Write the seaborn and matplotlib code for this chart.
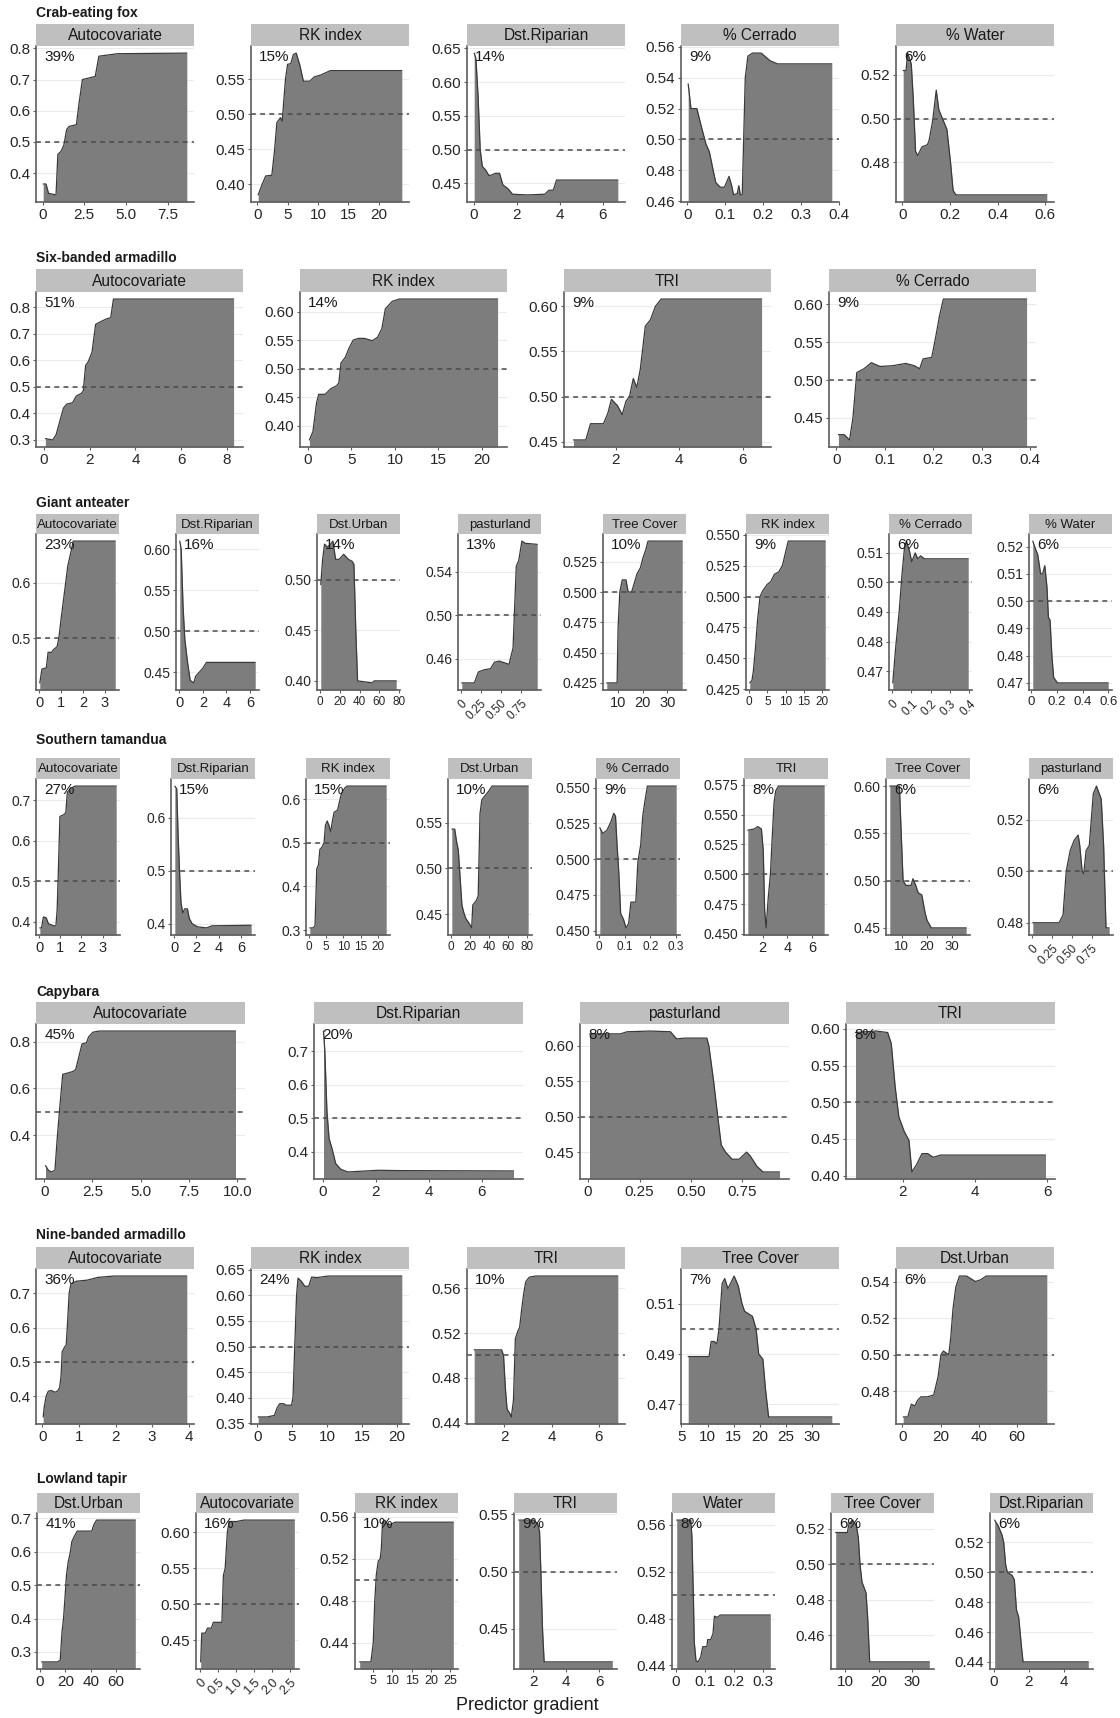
import matplotlib
matplotlib.use("Agg")
import matplotlib.pyplot as plt
import seaborn as sns
import pandas as pd

sns.set_theme(style="white")
plt.rcParams["font.family"] = ["Liberation Sans", "DejaVu Sans"]

# ---------------- data ----------------
# Crab-eating fox
fox_vars = ["Autocovariate", "RK index", "Dst.Riparian", "% Cerrado", "% Water"]
fox_pct = [39, 15, 14, 9, 6]
fox_auto_x = [0.04, 0.21, 0.36, 0.81, 0.92, 1.11, 1.28, 1.45, 1.6, 2.03, 2.18, 2.39, 3.16, 3.38, 4.49, 8.65]
fox_auto_y = [0.365, 0.365, 0.335, 0.33, 0.46, 0.47, 0.49, 0.54, 0.55, 0.555, 0.62, 0.70, 0.71, 0.775, 0.783, 0.785]
fox_rk_x = [0.12, 0.77, 1.36, 2.37, 2.84, 3.2, 3.79, 4.08, 4.62, 4.97, 5.5, 5.92, 6.39, 6.98, 7.57, 8.64, 9.35, 10.5, 12.0, 23.8]
fox_rk_y = [0.385, 0.40, 0.412, 0.413, 0.45, 0.488, 0.495, 0.49, 0.55, 0.571, 0.572, 0.585, 0.587, 0.57, 0.547, 0.547, 0.553, 0.556, 0.562, 0.562]
fox_rip_x = [0.02, 0.1, 0.2, 0.3, 0.4, 0.55, 0.7, 0.8, 1.0, 1.2, 1.35, 1.6, 1.8, 2.5, 3.3, 3.5, 3.7, 3.85, 6.7]
fox_rip_y = [0.643, 0.635, 0.58, 0.50, 0.475, 0.47, 0.462, 0.462, 0.465, 0.465, 0.448, 0.442, 0.434, 0.433, 0.434, 0.44, 0.44, 0.455, 0.455]
fox_cer_x = [0.002, 0.0094, 0.025, 0.035, 0.049, 0.058, 0.068, 0.075, 0.087, 0.098, 0.110, 0.117, 0.122, 0.132, 0.136, 0.140, 0.145, 0.153, 0.160, 0.172, 0.195, 0.219, 0.238, 0.382]
fox_cer_y = [0.536, 0.52, 0.52, 0.51, 0.497, 0.492, 0.48, 0.472, 0.469, 0.469, 0.476, 0.47, 0.464, 0.465, 0.47, 0.464, 0.464, 0.54, 0.554, 0.556, 0.556, 0.551, 0.549, 0.549]
fox_wat_x = [0.003, 0.015, 0.022, 0.037, 0.045, 0.055, 0.064, 0.082, 0.105, 0.112, 0.127, 0.142, 0.153, 0.168, 0.187, 0.202, 0.213, 0.225, 0.607]
fox_wat_y = [0.522, 0.522, 0.53, 0.525, 0.51, 0.485, 0.483, 0.487, 0.488, 0.49, 0.499, 0.513, 0.504, 0.50, 0.495, 0.48, 0.467, 0.465, 0.465]
fox_xticks = [[0, 2.5, 5, 7.5], [0, 5, 10, 15, 20], [0, 2, 4, 6], [0, 0.1, 0.2, 0.3, 0.4], [0, 0.2, 0.4, 0.6]]
fox_yticks = [[0.4, 0.5, 0.6, 0.7, 0.8], [0.40, 0.45, 0.50, 0.55], [0.45, 0.50, 0.55, 0.60, 0.65],
              [0.46, 0.48, 0.50, 0.52, 0.54, 0.56], [0.48, 0.50, 0.52]]

# Six-banded armadillo
six_vars = ["Autocovariate", "RK index", "TRI", "% Cerrado"]
six_pct = [51, 14, 9, 9]
six_auto_x = [0.06, 0.38, 0.53, 0.69, 0.85, 1.0, 1.25, 1.41, 1.63, 1.72, 1.82, 1.94, 2.1, 2.26, 2.48, 2.73, 2.92, 3.04, 8.3]
six_auto_y = [0.305, 0.30, 0.32, 0.37, 0.42, 0.435, 0.44, 0.465, 0.475, 0.485, 0.58, 0.595, 0.63, 0.735, 0.745, 0.755, 0.76, 0.83, 0.83]
six_rk_x = [0.17, 0.58, 0.99, 1.24, 1.98, 2.64, 3.3, 3.55, 3.8, 4.3, 4.7, 5.2, 5.8, 6.5, 7.4, 8.0, 8.5, 8.9, 9.7, 10.5, 21.8]
six_rk_y = [0.375, 0.39, 0.44, 0.455, 0.455, 0.465, 0.47, 0.475, 0.51, 0.52, 0.535, 0.55, 0.553, 0.553, 0.549, 0.555, 0.57, 0.605, 0.618, 0.622, 0.622]
six_tri_x = [0.66, 1.05, 1.2, 1.61, 1.75, 1.86, 2.05, 2.2, 2.32, 2.43, 2.55, 2.66, 2.77, 2.93, 3.09, 3.25, 3.43, 6.6]
six_tri_y = [0.452, 0.452, 0.47, 0.47, 0.482, 0.497, 0.49, 0.48, 0.495, 0.50, 0.52, 0.51, 0.53, 0.578, 0.585, 0.60, 0.608, 0.608]
six_cer_x = [0.004, 0.016, 0.027, 0.034, 0.042, 0.057, 0.072, 0.09, 0.116, 0.143, 0.161, 0.172, 0.179, 0.197, 0.206, 0.213, 0.221, 0.393]
six_cer_y = [0.428, 0.428, 0.421, 0.45, 0.51, 0.515, 0.523, 0.518, 0.519, 0.522, 0.519, 0.515, 0.528, 0.53, 0.56, 0.585, 0.607, 0.607]
six_xticks = [[0, 2, 4, 6, 8], [0, 5, 10, 15, 20], [2, 4, 6], [0, 0.1, 0.2, 0.3, 0.4]]
six_yticks = [[0.3, 0.4, 0.5, 0.6, 0.7, 0.8], [0.40, 0.45, 0.50, 0.55, 0.60], [0.45, 0.50, 0.55, 0.60], [0.45, 0.50, 0.55, 0.60]]

# Giant anteater
ga_vars = ["Autocovariate", "Dst.Riparian", "Dst.Urban", "pasturland", "Tree Cover", "RK index", "% Cerrado", "% Water"]
ga_pct = [23, 16, 14, 13, 10, 9, 6, 6]
ga_auto_x = [0.03, 0.13, 0.33, 0.41, 0.57, 0.66, 0.82, 0.9, 1.02, 1.15, 1.31, 1.48, 1.56, 3.48]
ga_auto_y = [0.42, 0.445, 0.447, 0.475, 0.475, 0.48, 0.485, 0.50, 0.54, 0.58, 0.63, 0.66, 0.675, 0.675]
ga_rip_x = [0.03, 0.15, 0.31, 0.46, 0.71, 0.92, 1.23, 1.38, 1.69, 2.0, 2.3, 6.46]
ga_rip_y = [0.61, 0.60, 0.53, 0.49, 0.46, 0.44, 0.437, 0.445, 0.45, 0.455, 0.462, 0.462]
ga_urb_x = [0.7, 2.6, 4.5, 7.5, 10.8, 13, 15.7, 19.4, 23.9, 28.7, 32.5, 34.3, 36.2, 38, 53, 54.9, 77.2]
ga_urb_y = [0.495, 0.52, 0.535, 0.532, 0.535, 0.538, 0.52, 0.52, 0.525, 0.52, 0.518, 0.515, 0.45, 0.40, 0.398, 0.40, 0.40]
ga_pas_x = [0.014, 0.17, 0.22, 0.29, 0.37, 0.42, 0.48, 0.60, 0.65, 0.69, 0.72, 0.76, 0.80, 0.95]
ga_pas_y = [0.438, 0.438, 0.448, 0.45, 0.451, 0.457, 0.458, 0.455, 0.47, 0.545, 0.55, 0.568, 0.566, 0.565]
ga_tree_x = [5.4, 9.6, 10.0, 10.7, 11.7, 13.2, 14.1, 15.5, 16.4, 17.7, 19.1, 20.1, 21.3, 22.2, 36.1]
ga_tree_y = [0.425, 0.425, 0.47, 0.50, 0.51, 0.51, 0.50, 0.50, 0.506, 0.515, 0.52, 0.528, 0.535, 0.542, 0.542]
ga_rk_x = [0.2, 0.8, 1.2, 1.8, 2.3, 3.0, 3.8, 5.0, 5.9, 6.9, 8.1, 9.1, 9.9, 10.7, 20.8]
ga_rk_y = [0.43, 0.432, 0.44, 0.46, 0.48, 0.50, 0.505, 0.51, 0.512, 0.518, 0.52, 0.525, 0.535, 0.545, 0.545]
ga_cer_x = [0.004, 0.019, 0.037, 0.052, 0.065, 0.074, 0.089, 0.102, 0.12, 0.133, 0.148, 0.167, 0.394]
ga_cer_y = [0.466, 0.478, 0.49, 0.503, 0.512, 0.514, 0.511, 0.507, 0.510, 0.508, 0.509, 0.508, 0.508]
ga_wat_x = [0.011, 0.033, 0.05, 0.072, 0.088, 0.105, 0.122, 0.133, 0.146, 0.16, 0.174, 0.204, 0.6]
ga_wat_y = [0.522, 0.519, 0.517, 0.51, 0.51, 0.513, 0.505, 0.494, 0.493, 0.48, 0.472, 0.47, 0.47]
ga_xticks = [[0, 1, 2, 3], [0, 2, 4, 6], [0, 20, 40, 60, 80], [0, 0.25, 0.5, 0.75], [10, 20, 30],
             [0, 5, 10, 15, 20], [0, 0.1, 0.2, 0.3, 0.4], [0, 0.2, 0.4, 0.6]]
ga_yticks = [[0.5, 0.6], [0.45, 0.50, 0.55, 0.60], [0.40, 0.45, 0.50], [0.46, 0.50, 0.54],
             [0.425, 0.450, 0.475, 0.500, 0.525], [0.425, 0.450, 0.475, 0.500, 0.525, 0.550],
             [0.47, 0.48, 0.49, 0.50, 0.51], [0.47, 0.48, 0.49, 0.50, 0.51, 0.52]]

# Southern tamandua
st_vars = ["Autocovariate", "Dst.Riparian", "RK index", "Dst.Urban", "% Cerrado", "TRI", "Tree Cover", "pasturland"]
st_pct = [27, 15, 15, 10, 9, 8, 6, 6]
st_auto_x = [0.03, 0.11, 0.2, 0.33, 0.44, 0.72, 0.79, 0.85, 0.92, 0.98, 1.18, 1.26, 1.33, 1.51, 1.7, 3.64]
st_auto_y = [0.385, 0.385, 0.412, 0.41, 0.395, 0.39, 0.39, 0.43, 0.55, 0.66, 0.665, 0.67, 0.72, 0.73, 0.735, 0.735]
st_rip_x = [0.06, 0.23, 0.35, 0.48, 0.61, 0.77, 0.94, 1.19, 1.35, 1.61, 2.1, 2.9, 3.4, 6.9]
st_rip_y = [0.66, 0.655, 0.57, 0.50, 0.44, 0.42, 0.428, 0.428, 0.41, 0.40, 0.394, 0.392, 0.396, 0.397]
st_rk_x = [0.3, 1.3, 1.8, 2.3, 2.8, 3.2, 3.8, 4.4, 4.8, 5.3, 5.8, 6.3, 6.8, 7.3, 8.3, 9.3, 10.3, 11.0, 22.3]
st_rk_y = [0.305, 0.305, 0.31, 0.44, 0.45, 0.485, 0.49, 0.50, 0.54, 0.55, 0.54, 0.525, 0.55, 0.57, 0.575, 0.61, 0.625, 0.63, 0.63]
st_urb_x = [0.8, 3.8, 5.7, 7.6, 9.5, 11.4, 13.3, 15.6, 19, 21.7, 22.8, 26.6, 28.5, 30.4, 32.3, 36.1, 39.9, 43, 81]
st_urb_y = [0.543, 0.543, 0.53, 0.52, 0.49, 0.46, 0.452, 0.445, 0.44, 0.435, 0.46, 0.465, 0.47, 0.56, 0.575, 0.58, 0.585, 0.59, 0.59]
st_cer_x = [0.003, 0.014, 0.03, 0.046, 0.057, 0.064, 0.07, 0.077, 0.084, 0.095, 0.105, 0.115, 0.124, 0.143, 0.151, 0.162, 0.17, 0.178, 0.188, 0.30]
st_cer_y = [0.522, 0.518, 0.52, 0.526, 0.532, 0.53, 0.51, 0.49, 0.462, 0.458, 0.452, 0.455, 0.47, 0.47, 0.498, 0.51, 0.53, 0.54, 0.551, 0.551]
st_tri_x = [0.81, 1.33, 1.62, 1.91, 2.06, 2.17, 2.29, 2.46, 2.64, 2.78, 2.93, 3.07, 3.28, 6.99]
st_tri_y = [0.537, 0.538, 0.54, 0.538, 0.52, 0.47, 0.455, 0.48, 0.50, 0.53, 0.56, 0.57, 0.574, 0.574]
st_tree_x = [5.35, 9.15, 9.86, 10.6, 11.7, 13.8, 14.5, 15.6, 16.6, 18.0, 18.7, 19.4, 20.1, 21.8, 35.6]
st_tree_y = [0.60, 0.60, 0.55, 0.50, 0.495, 0.495, 0.502, 0.495, 0.487, 0.485, 0.475, 0.465, 0.458, 0.45, 0.45]
st_pas_x = [0.01, 0.34, 0.39, 0.43, 0.48, 0.53, 0.58, 0.60, 0.63, 0.65, 0.68, 0.72, 0.77, 0.81, 0.87, 0.9, 0.93, 0.97]
st_pas_y = [0.48, 0.48, 0.483, 0.50, 0.508, 0.512, 0.514, 0.51, 0.50, 0.499, 0.508, 0.51, 0.53, 0.533, 0.528, 0.51, 0.478, 0.478]
st_xticks = [[0, 1, 2, 3], [0, 2, 4, 6], [0, 5, 10, 15, 20], [0, 20, 40, 60, 80], [0, 0.1, 0.2, 0.3],
             [2, 4, 6], [10, 20, 30], [0, 0.25, 0.5, 0.75]]
st_yticks = [[0.4, 0.5, 0.6, 0.7], [0.4, 0.5, 0.6], [0.3, 0.4, 0.5, 0.6], [0.45, 0.50, 0.55],
             [0.450, 0.475, 0.500, 0.525, 0.550], [0.450, 0.475, 0.500, 0.525, 0.550, 0.575],
             [0.45, 0.50, 0.55, 0.60], [0.48, 0.50, 0.52]]

# Capybara
cap_vars = ["Autocovariate", "Dst.Riparian", "pasturland", "TRI"]
cap_pct = [45, 20, 8, 8]
cap_auto_x = [0.07, 0.22, 0.37, 0.56, 0.67, 0.81, 0.96, 1.19, 1.48, 1.63, 1.78, 1.96, 2.19, 2.3, 2.52, 2.85, 9.9]
cap_auto_y = [0.27, 0.25, 0.243, 0.25, 0.38, 0.52, 0.66, 0.665, 0.672, 0.68, 0.73, 0.79, 0.795, 0.82, 0.84, 0.845, 0.845]
cap_rip_x = [0.03, 0.08, 0.16, 0.24, 0.35, 0.49, 0.68, 0.95, 1.4, 2.1, 2.9, 7.2]
cap_rip_y = [0.76, 0.70, 0.52, 0.44, 0.41, 0.365, 0.348, 0.34, 0.342, 0.345, 0.344, 0.343]
cap_pas_x = [0.007, 0.157, 0.19, 0.30, 0.40, 0.43, 0.47, 0.577, 0.587, 0.61, 0.63, 0.647, 0.668, 0.70, 0.734, 0.77, 0.787, 0.82, 0.85, 0.93]
cap_pas_y = [0.617, 0.617, 0.62, 0.621, 0.62, 0.61, 0.611, 0.611, 0.60, 0.55, 0.50, 0.46, 0.45, 0.44, 0.44, 0.45, 0.445, 0.43, 0.422, 0.422]
cap_tri_x = [0.69, 1.26, 1.58, 1.68, 1.79, 1.89, 2.04, 2.17, 2.25, 2.38, 2.53, 2.69, 2.84, 3.05, 5.95]
cap_tri_y = [0.595, 0.597, 0.595, 0.58, 0.52, 0.48, 0.46, 0.448, 0.405, 0.415, 0.43, 0.43, 0.425, 0.428, 0.428]
cap_xticks = [[0, 2.5, 5, 7.5, 10], [0, 2, 4, 6], [0, 0.25, 0.5, 0.75], [2, 4, 6]]
cap_yticks = [[0.4, 0.6, 0.8], [0.4, 0.5, 0.6, 0.7], [0.45, 0.50, 0.55, 0.60], [0.40, 0.45, 0.50, 0.55, 0.60]]

# Nine-banded armadillo
nb_vars = ["Autocovariate", "RK index", "TRI", "Tree Cover", "Dst.Urban"]
nb_pct = [36, 24, 10, 7, 6]
nb_auto_x = [0.02, 0.05, 0.1, 0.16, 0.24, 0.34, 0.41, 0.47, 0.51, 0.54, 0.6, 0.65, 0.69, 0.73, 0.78, 0.93, 1.22, 1.37, 1.51, 1.95, 3.95]
nb_auto_y = [0.34, 0.37, 0.40, 0.415, 0.417, 0.412, 0.415, 0.425, 0.46, 0.53, 0.542, 0.55, 0.62, 0.70, 0.727, 0.735, 0.738, 0.742, 0.746, 0.75, 0.75]
nb_rk_x = [0.15, 1.44, 2.46, 2.87, 3.23, 3.79, 4.1, 4.92, 5.13, 5.38, 5.64, 5.85, 6.31, 6.82, 7.38, 7.79, 8.6, 10.15, 20.7]
nb_rk_y = [0.362, 0.362, 0.365, 0.38, 0.388, 0.388, 0.385, 0.385, 0.40, 0.50, 0.60, 0.634, 0.628, 0.618, 0.618, 0.636, 0.635, 0.638, 0.638]
nb_tri_x = [0.73, 1.89, 1.97, 2.05, 2.12, 2.24, 2.3, 2.39, 2.47, 2.58, 2.65, 2.73, 2.82, 2.91, 3.06, 3.33, 6.8]
nb_tri_y = [0.505, 0.505, 0.50, 0.47, 0.452, 0.448, 0.445, 0.46, 0.515, 0.522, 0.525, 0.54, 0.555, 0.566, 0.57, 0.571, 0.571]
nb_tree_x = [6.3, 10.3, 10.7, 11.3, 11.8, 12.2, 12.8, 13.3, 13.9, 14.4, 15.1, 15.9, 16.6, 17.1, 18.6, 19.3, 19.8, 20.6, 21.1, 21.7, 33.8]
nb_tree_y = [0.489, 0.489, 0.495, 0.495, 0.494, 0.50, 0.518, 0.52, 0.516, 0.518, 0.521, 0.517, 0.51, 0.507, 0.505, 0.50, 0.49, 0.488, 0.476, 0.465, 0.465]
nb_urb_x = [0.4, 2.8, 4.7, 6.5, 7.9, 9.7, 13.1, 16.4, 18.7, 20.2, 21.5, 24.3, 25.4, 26.5, 28.0, 29.9, 33.6, 38.3, 41.1, 43.9, 75.7]
nb_urb_y = [0.466, 0.466, 0.473, 0.472, 0.475, 0.477, 0.477, 0.478, 0.488, 0.50, 0.502, 0.50, 0.51, 0.525, 0.537, 0.543, 0.543, 0.54, 0.541, 0.543, 0.543]
nb_xticks = [[0, 1, 2, 3, 4], [0, 5, 10, 15, 20], [2, 4, 6], [5, 10, 15, 20, 25, 30], [0, 20, 40, 60]]
nb_yticks = [[0.4, 0.5, 0.6, 0.7], [0.35, 0.40, 0.45, 0.50, 0.55, 0.60, 0.65], [0.44, 0.48, 0.52, 0.56],
             [0.47, 0.49, 0.51], [0.48, 0.50, 0.52, 0.54]]

# Lowland tapir
lt_vars = ["Dst.Urban", "Autocovariate", "RK index", "TRI", "Water", "Tree Cover", "Dst.Riparian"]
lt_pct = [41, 16, 10, 9, 8, 6, 6]
lt_urb_x = [1.4, 13.7, 16, 17.4, 18.6, 19.7, 20.9, 22.3, 24, 25.1, 26.9, 29.4, 40.9, 42.3, 44.6, 75.1]
lt_urb_y = [0.27, 0.27, 0.275, 0.36, 0.40, 0.46, 0.53, 0.57, 0.60, 0.63, 0.645, 0.662, 0.662, 0.68, 0.695, 0.695]
lt_auto_x = [0.02, 0.05, 0.15, 0.21, 0.32, 0.37, 0.61, 0.65, 0.70, 0.76, 0.81, 1.01, 1.22, 2.62]
lt_auto_y = [0.42, 0.46, 0.46, 0.467, 0.467, 0.475, 0.475, 0.54, 0.55, 0.60, 0.615, 0.615, 0.617, 0.617]
lt_rk_x = [1.6, 4.5, 5.1, 5.5, 5.9, 6.4, 6.9, 7.2, 7.5, 8.1, 8.8, 9.7, 10.7, 25.8]
lt_rk_y = [0.422, 0.422, 0.44, 0.48, 0.505, 0.518, 0.52, 0.53, 0.555, 0.557, 0.553, 0.553, 0.555, 0.555]
lt_tri_x = [1.1, 1.6, 2.0, 2.25, 2.37, 2.45, 2.55, 2.65, 6.8]
lt_tri_y = [0.545, 0.545, 0.545, 0.542, 0.535, 0.50, 0.45, 0.421, 0.421]
lt_wat_x = [0.004, 0.052, 0.056, 0.061, 0.064, 0.07, 0.077, 0.086, 0.093, 0.107, 0.11, 0.12, 0.128, 0.133, 0.143, 0.153, 0.324]
lt_wat_y = [0.564, 0.564, 0.55, 0.50, 0.46, 0.444, 0.443, 0.447, 0.456, 0.456, 0.462, 0.462, 0.467, 0.482, 0.481, 0.483, 0.483]
lt_tree_x = [7.1, 10.6, 11.1, 12.2, 13.3, 13.9, 14.4, 15, 15.6, 16.2, 16.7, 17.3, 35.2]
lt_tree_y = [0.518, 0.518, 0.523, 0.525, 0.522, 0.515, 0.50, 0.49, 0.487, 0.484, 0.47, 0.445, 0.445]
lt_rip_x = [0.04, 0.25, 0.46, 0.56, 0.67, 0.77, 1.04, 1.17, 1.29, 1.42, 1.5, 1.58, 1.67, 5.42]
lt_rip_y = [0.535, 0.531, 0.525, 0.52, 0.505, 0.50, 0.498, 0.495, 0.475, 0.47, 0.46, 0.45, 0.44, 0.44]
lt_xticks = [[0, 20, 40, 60], [0, 0.5, 1, 1.5, 2, 2.5], [5, 10, 15, 20, 25], [2, 4, 6], [0, 0.1, 0.2, 0.3],
             [10, 20, 30], [0, 2, 4]]
lt_yticks = [[0.3, 0.4, 0.5, 0.6, 0.7], [0.45, 0.50, 0.55, 0.60], [0.44, 0.48, 0.52, 0.56], [0.45, 0.50, 0.55],
             [0.44, 0.48, 0.52, 0.56], [0.46, 0.48, 0.50, 0.52], [0.44, 0.46, 0.48, 0.50, 0.52]]

species = [
    ("Crab-eating fox", fox_vars, fox_pct,
     [(fox_auto_x, fox_auto_y), (fox_rk_x, fox_rk_y), (fox_rip_x, fox_rip_y), (fox_cer_x, fox_cer_y), (fox_wat_x, fox_wat_y)],
     fox_xticks, fox_yticks),
    ("Six-banded armadillo", six_vars, six_pct,
     [(six_auto_x, six_auto_y), (six_rk_x, six_rk_y), (six_tri_x, six_tri_y), (six_cer_x, six_cer_y)],
     six_xticks, six_yticks),
    ("Giant anteater", ga_vars, ga_pct,
     [(ga_auto_x, ga_auto_y), (ga_rip_x, ga_rip_y), (ga_urb_x, ga_urb_y), (ga_pas_x, ga_pas_y),
      (ga_tree_x, ga_tree_y), (ga_rk_x, ga_rk_y), (ga_cer_x, ga_cer_y), (ga_wat_x, ga_wat_y)],
     ga_xticks, ga_yticks),
    ("Southern tamandua", st_vars, st_pct,
     [(st_auto_x, st_auto_y), (st_rip_x, st_rip_y), (st_rk_x, st_rk_y), (st_urb_x, st_urb_y),
      (st_cer_x, st_cer_y), (st_tri_x, st_tri_y), (st_tree_x, st_tree_y), (st_pas_x, st_pas_y)],
     st_xticks, st_yticks),
    ("Capybara", cap_vars, cap_pct,
     [(cap_auto_x, cap_auto_y), (cap_rip_x, cap_rip_y), (cap_pas_x, cap_pas_y), (cap_tri_x, cap_tri_y)],
     cap_xticks, cap_yticks),
    ("Nine-banded armadillo", nb_vars, nb_pct,
     [(nb_auto_x, nb_auto_y), (nb_rk_x, nb_rk_y), (nb_tri_x, nb_tri_y), (nb_tree_x, nb_tree_y), (nb_urb_x, nb_urb_y)],
     nb_xticks, nb_yticks),
    ("Lowland tapir", lt_vars, lt_pct,
     [(lt_urb_x, lt_urb_y), (lt_auto_x, lt_auto_y), (lt_rk_x, lt_rk_y), (lt_tri_x, lt_tri_y),
      (lt_wat_x, lt_wat_y), (lt_tree_x, lt_tree_y), (lt_rip_x, lt_rip_y)],
     lt_xticks, lt_yticks),
]

# ---------------- layout (pixels) ----------------
W, H = 1120, 1718
layout = [
    dict(title_y=13, strip_top=24, top=46, bottom=202, lefts=[36, 251, 467, 681, 896], width=158,
         strip_fs=11.2, ytick_fs=11, xtick_fs=[11] * 5, rot=[]),
    dict(title_y=258, strip_top=269, top=292, bottom=447, lefts=[36, 300, 564, 829], width=207,
         strip_fs=11.2, ytick_fs=11, xtick_fs=[11] * 4, rot=[]),
    dict(title_y=503, strip_top=514, top=534, bottom=690, lefts=[36, 176, 317, 458, 603, 746, 889, 1029], width=83,
         strip_fs=9.5, ytick_fs=10, xtick_fs=[10.5, 10.5, 8.5, 8.5, 10.5, 8.5, 8.5, 9.5], rot=[3, 6]),
    dict(title_y=740, strip_top=758, top=779, bottom=935, lefts=[36, 171, 306, 448, 596, 744, 886, 1029], width=84,
         strip_fs=9.5, ytick_fs=10, xtick_fs=[10.5, 10.5, 8.5, 8.5, 8.5, 10.5, 9.5, 8.5], rot=[7]),
    dict(title_y=992, strip_top=1002, top=1024, bottom=1179, lefts=[36, 314, 580, 846], width=209,
         strip_fs=11.2, ytick_fs=11, xtick_fs=[11] * 4, rot=[]),
    dict(title_y=1235, strip_top=1247, top=1269, bottom=1424, lefts=[36, 251, 467, 681, 896], width=158,
         strip_fs=11.2, ytick_fs=11, xtick_fs=[11] * 5, rot=[]),
    dict(title_y=1479, strip_top=1493, top=1513, bottom=1669, lefts=[37, 196, 355, 514, 672, 831, 990], width=103,
         strip_fs=11.2, ytick_fs=11, xtick_fs=[11, 9, 9, 11, 11, 11, 11], rot=[1]),
]

FILL = "#7d7d7d"
LINE = "#3a3a3a"
STRIP = "#bfbfbf"
TXT = "#1a1a1a"
AXIS = "#5e5e5e"


def fmt_ticks(vals):
    d = 0
    while any(abs(round(v, d) - v) > 1e-9 for v in vals):
        d += 1
    return ["0" if v == 0 else f"{v:.{d}f}" for v in vals]


fig = plt.figure(figsize=(W / 100, H / 100), dpi=100)
fig.patch.set_facecolor("white")

for (name, vars_, pcts, curves, xticks, yticks), geo in zip(species, layout):
    fig.text(geo["lefts"][0] / W, 1 - geo["title_y"] / H, name, fontsize=10, fontweight="bold",
             color=TXT, ha="left", va="center")
    for i, (var, pct, (xs, ys), xt, yt) in enumerate(zip(vars_, pcts, curves, xticks, yticks)):
        left = geo["lefts"][i]
        w = geo["width"]
        ax = fig.add_axes([left / W, 1 - geo["bottom"] / H, w / W, (geo["bottom"] - geo["top"]) / H])
        sax = fig.add_axes([left / W, 1 - geo["top"] / H, w / W, (geo["top"] - geo["strip_top"]) / H])

        df = pd.DataFrame({"x": xs, "y": ys})
        x0, x1 = df["x"].min(), df["x"].max()
        y0, y1 = df["y"].min(), df["y"].max()
        px, py = 0.05 * (x1 - x0), 0.05 * (y1 - y0)
        ax.set_xlim(x0 - px, x1 + px)
        ax.set_ylim(y0 - py, y1 + py)

        for t in yt:
            ax.axhline(t, color="#ebebeb", lw=0.8, zorder=0)
        ax.fill_between(df["x"], df["y"], y0 - py, color=FILL, lw=0, zorder=1)
        sns.lineplot(data=df, x="x", y="y", ax=ax, color=LINE, lw=0.9, estimator=None, sort=False, zorder=2)
        ax.axhline(0.5, color="#4a4a4a", lw=1.1, ls=(0, (3.2, 2.8)), zorder=3)

        ax.set_xlabel("")
        ax.set_ylabel("")
        ax.set_facecolor("white")
        ax.set_xticks(xt)
        ax.set_yticks(yt)
        rot = i in geo["rot"]
        ax.set_xticklabels(fmt_ticks(xt), fontsize=geo["xtick_fs"][i], color="#262626",
                           rotation=45 if rot else 0, ha="right" if rot else "center",
                           rotation_mode="anchor" if rot else "default")
        ax.set_yticklabels(fmt_ticks(yt), fontsize=geo["ytick_fs"], color="#262626")
        ax.tick_params(axis="both", length=2.5, width=0.8, color=AXIS, pad=1.5, direction="out",
                       bottom=True, left=True)
        if rot:
            ax.tick_params(axis="x", pad=3)
        for s in ["top", "right"]:
            ax.spines[s].set_visible(False)
        for s in ["left", "bottom"]:
            ax.spines[s].set_color(AXIS)
            ax.spines[s].set_linewidth(1.2)
            ax.spines[s].set_zorder(4)

        ax.annotate(f"{pct}%", xy=(0, 1), xycoords="axes fraction", xytext=(6, -3),
                    textcoords="offset points", ha="left", va="top", fontsize=11, color=TXT, zorder=5)

        sax.set_facecolor(STRIP)
        sax.set_xticks([])
        sax.set_yticks([])
        for s in sax.spines.values():
            s.set_visible(False)
        sax.text(0.5, 0.47, var, ha="center", va="center", transform=sax.transAxes,
                 fontsize=geo["strip_fs"], color=TXT)

fig.text(527 / W, 1 - 1705 / H, "Predictor gradient", fontsize=13, color=TXT, ha="center", va="center")

fig.savefig("out.png", dpi=100, facecolor="white")
